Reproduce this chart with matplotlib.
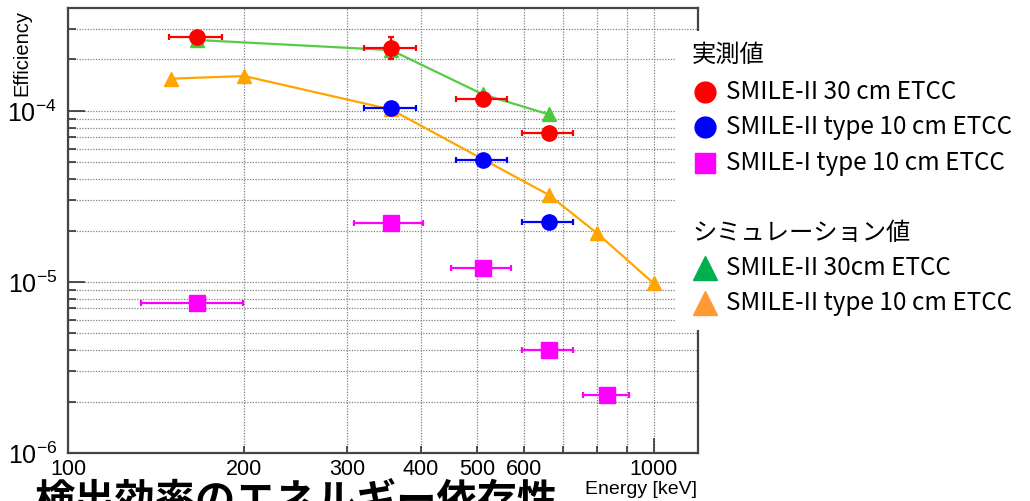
import matplotlib
matplotlib.use("Agg")
import matplotlib.pyplot as plt
from matplotlib.lines import Line2D
from matplotlib.patches import Rectangle
from matplotlib.ticker import FixedLocator, FixedFormatter, NullFormatter

# ---------------- data ----------------
# measured (実測値)
red_E = [166, 356, 511, 662]
red_eff = [2.72e-4, 2.35e-4, 1.17e-4, 7.4e-5]
red_xerr = [17, 36, 51, 66]
red_yerr = [0.15e-4, 0.35e-4, 0.08e-4, 0.05e-4]

blue_E = [356, 511, 662]
blue_eff = [1.045e-4, 5.17e-5, 2.25e-5]
blue_xerr = [36, 51, 66]

mag_E = [166, 356, 511, 662, 833]
mag_eff = [7.5e-6, 2.22e-5, 1.2e-5, 4.0e-6, 2.18e-6]
mag_xerr = [33, 48, 60, 66, 75]

# simulation (シミュレーション値)
green_E = [166, 356, 511, 662]
green_eff = [2.6e-4, 2.27e-4, 1.25e-4, 9.55e-5]

orange_E = [150, 200, 356, 662, 800, 1000]
orange_eff = [1.545e-4, 1.6e-4, 1.02e-4, 3.23e-5, 1.93e-5, 9.8e-6]

x_major = [100, 1000]
x_minor = [200, 300, 400, 500, 600, 700, 800, 900]
x_minor_labels = ["200", "300", "400", "500", "600", "", "", ""]
y_major = [1e-6, 1e-5, 1e-4]
y_major_labels = [r"$10^{-6}$", r"$10^{-5}$", r"$10^{-4}$"]

legend_meas = ["SMILE-II 30 cm ETCC", "SMILE-II type 10 cm ETCC", "SMILE-I type 10 cm ETCC"]
legend_sim = ["SMILE-II 30cm ETCC", "SMILE-II type 10 cm ETCC"]

# ---------------- style ----------------
plt.rcParams["font.family"] = ["Liberation Sans", "DejaVu Sans"]
plt.rcParams["mathtext.fontset"] = "custom"
plt.rcParams["mathtext.rm"] = "Liberation Sans"
plt.rcParams["mathtext.it"] = "Liberation Sans"

W, H = 1030, 501
fig = plt.figure(figsize=(W / 100, H / 100), dpi=100)
fig.patch.set_facecolor("white")

def fx(px):
    return px / W

def fy(py):
    return 1 - py / H

ax_l, ax_r, ax_t, ax_b = 68, 698, 8, 453
ax = fig.add_axes([fx(ax_l), fy(ax_b), fx(ax_r) - fx(ax_l), fy(ax_t) - fy(ax_b)])
ax.set_xscale("log")
ax.set_yscale("log")
ax.set_xlim(100, 1190)
ax.set_ylim(1e-6, 4.0e-4)

# ticks
ax.xaxis.set_major_locator(FixedLocator(x_major))
ax.xaxis.set_major_formatter(FixedFormatter(["100", "1000"]))
ax.xaxis.set_minor_locator(FixedLocator(x_minor))
ax.xaxis.set_minor_formatter(FixedFormatter(x_minor_labels))
ax.yaxis.set_major_locator(FixedLocator(y_major))
ax.yaxis.set_major_formatter(FixedFormatter(y_major_labels))
y_minor = [m * d for d in (1e-6, 1e-5, 1e-4) for m in range(2, 10) if m * d < 4.0e-4]
ax.yaxis.set_minor_locator(FixedLocator(y_minor))
ax.yaxis.set_minor_formatter(NullFormatter())

ax.tick_params(axis="both", which="both", direction="in", color="#333333", width=1.2)
ax.tick_params(axis="x", which="major", length=11, pad=4, labelsize=15.5)
ax.tick_params(axis="x", which="minor", length=5, pad=4, labelsize=15.5)
ax.tick_params(axis="y", which="major", length=12, pad=8, labelsize=18)
ax.tick_params(axis="y", which="minor", length=6)

ax.grid(True, which="both", linestyle=(0, (1, 1.2)), color="#808080", linewidth=0.9)
for s in ax.spines.values():
    s.set_color("#444444")
    s.set_linewidth(1.6)
ax.set_axisbelow(True)

# simulation lines
ax.plot(green_E, green_eff, color="#55CC44", lw=1.6, marker="^", ms=10.5,
        mfc="#4CC83C", mec="#4CC83C", zorder=3)
ax.plot(orange_E, orange_eff, color="#FFA500", lw=1.6, marker="^", ms=10.5,
        mfc="#FFA500", mec="#FFA500", zorder=3)

# measured points
ekw = dict(elinewidth=1.6, capsize=2.2, capthick=1.6, ls="none", zorder=4)
ax.errorbar(red_E, red_eff, xerr=red_xerr, yerr=red_yerr, fmt="o", ms=11,
            color="#FF0000", **ekw)
ax.errorbar(blue_E, blue_eff, xerr=blue_xerr, fmt="o", ms=11,
            color="#0000FF", **ekw)
ax.errorbar(mag_E, mag_eff, xerr=mag_xerr, fmt="s", ms=11,
            color="#FF00FF", **ekw)

# axis titles (ROOT style)
fig.text(fx(697), fy(489), "Energy [keV]", ha="right", va="center", fontsize=14)
fig.text(fx(22), fy(10), "Efficiency", rotation=90, ha="center", va="top", fontsize=14.5)

# legend overlay (white box covering right part of plot)
fig.add_artist(Rectangle((fx(676), fy(330)), fx(1030) - fx(676), fy(31) - fy(330),
                         transform=fig.transFigure, facecolor="white",
                         edgecolor="none", zorder=5))

jp = ["Noto Sans CJK JP", "DejaVu Sans"]
fs = 17.5
fig.text(fx(692), fy(55), "実測値", family=jp, fontsize=fs, va="center", ha="left", zorder=6)
meas_colors = ["#FF0000", "#0000FF", "#FF00FF"]
meas_markers = ["o", "o", "s"]
meas_y = [92, 127, 163]
for lab, c, m, yy in zip(legend_meas, meas_colors, meas_markers, meas_y):
    fig.add_artist(Line2D([fx(705)], [fy(yy)], marker=m, ms=15 if m == "o" else 14,
                          color=c, mec=c, ls="none", transform=fig.transFigure, zorder=6))
    fig.text(fx(726), fy(yy), lab, family=jp, fontsize=fs, va="center", ha="left", zorder=6)

fig.text(fx(692), fy(233), "シミュレーション値", family=jp, fontsize=fs, va="center",
         ha="left", zorder=6)
sim_colors = ["#00B050", "#FF9933"]
sim_y = [268, 303]
for lab, c, yy in zip(legend_sim, sim_colors, sim_y):
    fig.add_artist(Line2D([fx(705)], [fy(yy)], marker="^", ms=17,
                          color=c, mec=c, ls="none", transform=fig.transFigure, zorder=6))
    fig.text(fx(726), fy(yy), lab, family=jp, fontsize=fs, va="center", ha="left", zorder=6)

# slide title partially visible at the bottom (cut off in the reference too)
fig.text(fx(34), fy(481), "検出効率のエネルギー依存性", family=jp, fontsize=29,
         weight="bold", va="top", ha="left", color="black")

fig.savefig("out.png", dpi=100)
